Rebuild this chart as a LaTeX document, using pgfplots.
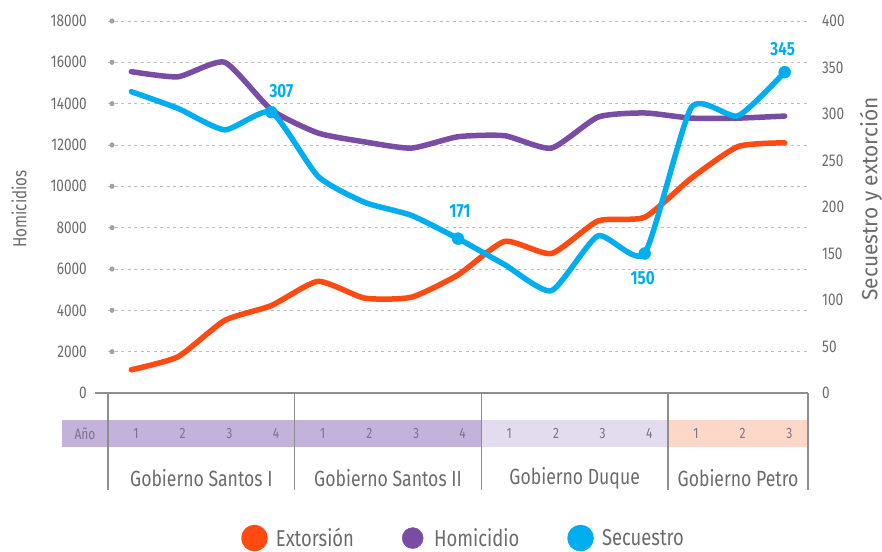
\documentclass[border=0pt]{standalone}
\usepackage{fontspec}
\setmainfont{Fira Sans}[FakeStretch=0.8]
\newfontfamily\widefont{Fira Sans}[FakeStretch=0.95]
\usepackage{pgfplots}
\usepackage{pgfplotstable}
\pgfplotsset{compat=1.18}
\definecolor{cExt}{HTML}{FF4A12}
\definecolor{cHom}{HTML}{7A4DA4}
\definecolor{cSec}{HTML}{00AEEF}
\definecolor{txt}{HTML}{6B6B6B}
\definecolor{gridc}{HTML}{BDBDBD}
\definecolor{sepc}{HTML}{8E8E8E}
\definecolor{bandS}{HTML}{C3B3DA}
\definecolor{bandD}{HTML}{E3DBEE}
\definecolor{bandP}{HTML}{FDD7C8}
\definecolor{yrc}{HTML}{7D7388}

\pgfplotstableread{
x hom
0.5 15550
1.5 15300
2.5 16000
3.5 13700
4.5 12580
5.5 12150
6.5 11850
7.5 12400
8.5 12450
9.5 11850
10.5 13350
11.5 13550
12.5 13300
13.5 13300
14.5 13400
}\homtable

\pgfplotstableread{
x ext sec
0.5 25 324
1.5 39 306
2.5 78 283
3.5 94 302
4.5 120 233
5.5 102 205
6.5 103 191
7.5 127 166
8.5 163 138
9.5 150 110
10.5 185 169
11.5 189 150
12.5 231 307
13.5 265 298
14.5 269 345
}\rtable

\begin{document}
\begin{tikzpicture}
\path[use as bounding box] (0pt,0pt) rectangle (882pt,551pt);
\begin{axis}[
  at={(108pt,158pt)}, anchor=south west, scale only axis,
  width=700pt, height=372pt,
  xmin=0, xmax=15, ymin=0, ymax=18000, clip=false,
  axis line style={draw=none}, major tick length=0pt, xtick=\empty,
  ytick={0,2000,...,18000}, scaled y ticks=false,
  /pgf/number format/assume math mode=true, /pgf/number format/1000 sep={},
  yticklabel style={font=\fontsize{17}{17}\selectfont, text=txt, anchor=east, inner sep=0pt, xshift=-21pt},
  ymajorgrids, grid style={gridc, dash pattern=on 3pt off 3.5pt, line width=0.9pt},
  ylabel={Homicidios},
  ylabel style={at={(axis description cs:0,0.5)}, anchor=center, yshift=89pt, xshift=-2pt, font=\fontsize{19}{19}\selectfont, text=txt},
]
\addplot[cHom, line width=5.5pt, smooth, tension=0.35, line join=round, line cap=round] table[x=x,y=hom]{\homtable};
\pgfplotsinvokeforeach{2000,4000,6000,8000,10000,12000,14000,16000,18000}{
  \fill[gridc!85!black] ([xshift=4pt]axis cs:0,#1) circle (2.6pt);
}
\draw[sepc, line width=1.2pt] ([xshift=-13pt]axis cs:0,0) -- (axis cs:15,0);
\fill[bandS] ([xshift=-46pt,yshift=-27pt]axis cs:0,0) rectangle ([yshift=-54pt]axis cs:8,0);
\fill[bandD] ([yshift=-27pt]axis cs:8,0) rectangle ([yshift=-54pt]axis cs:12,0);
\fill[bandP] ([yshift=-27pt]axis cs:12,0) rectangle ([yshift=-54pt]axis cs:15,0);
\pgfplotsinvokeforeach{0,4,8,12,15}{
  \draw[sepc, line width=1.1pt] (axis cs:#1,0) -- ([yshift=-97pt]axis cs:#1,0);
}
\tikzset{yr/.style={font=\fontsize{15}{15}\selectfont, text=yrc, anchor=center, inner sep=0pt},
         gov/.style={font=\fontsize{22}{22}\selectfont, text=txt, anchor=center, inner sep=0pt}}
\node[yr] at ([xshift=-23pt,yshift=-40.5pt]axis cs:0,0) {Año};
\node[yr] at ([yshift=-40.5pt]axis cs:0.6,0) {1};
\node[yr] at ([yshift=-40.5pt]axis cs:1.6,0) {2};
\node[yr] at ([yshift=-40.5pt]axis cs:2.6,0) {3};
\node[yr] at ([yshift=-40.5pt]axis cs:3.6,0) {4};
\node[yr] at ([yshift=-40.5pt]axis cs:4.6,0) {1};
\node[yr] at ([yshift=-40.5pt]axis cs:5.6,0) {2};
\node[yr] at ([yshift=-40.5pt]axis cs:6.6,0) {3};
\node[yr] at ([yshift=-40.5pt]axis cs:7.6,0) {4};
\node[yr] at ([yshift=-40.5pt]axis cs:8.6,0) {1};
\node[yr] at ([yshift=-40.5pt]axis cs:9.6,0) {2};
\node[yr] at ([yshift=-40.5pt]axis cs:10.6,0) {3};
\node[yr] at ([yshift=-40.5pt]axis cs:11.6,0) {4};
\node[yr] at ([yshift=-40.5pt]axis cs:12.6,0) {1};
\node[yr] at ([yshift=-40.5pt]axis cs:13.6,0) {2};
\node[yr] at ([yshift=-40.5pt]axis cs:14.6,0) {3};
\node[gov] at ([yshift=-85pt]axis cs:2,0) {Gobierno Santos I};
\node[gov] at ([yshift=-85pt]axis cs:6,0) {Gobierno Santos II};
\node[gov] at ([yshift=-85pt]axis cs:10,0) {Gobierno Duque};
\node[gov] at ([yshift=-85pt]axis cs:13.5,0) {Gobierno Petro};
\end{axis}

\begin{axis}[
  at={(108pt,158pt)}, anchor=south west, scale only axis,
  width=700pt, height=372pt,
  xmin=0, xmax=15, ymin=0, ymax=400, clip=false,
  axis line style={draw=none}, major tick length=0pt, xtick=\empty,
  ytick={0,50,...,400}, yticklabel pos=right,
  /pgf/number format/assume math mode=true,
  yticklabel style={font=\fontsize{17}{17}\selectfont, text=txt, anchor=west, inner sep=0pt, xshift=14pt},
  ylabel={Secuestro y extorción},
  ylabel style={at={(axis description cs:1,0.5)}, anchor=center, yshift=-63pt, xshift=8pt, font=\widefont\fontsize{22}{22}\selectfont, text=txt},
  legend columns=3, legend cell align=left,
  legend image code/.code={\fill[#1] (10.5pt,0pt) circle (10.5pt); \path[draw=none,fill=none] (0pt,0pt) rectangle (30pt,0pt);},
  legend style={at={(0.19,-0.39)}, anchor=west, draw=none, fill=none, inner sep=0pt,
    font=\fontsize{23}{23}\selectfont, text=txt,
    /tikz/every even column/.append style={column sep=46pt}},
]
\addplot[cExt, line width=5.5pt, smooth, tension=0.35, line join=round, line cap=round] table[x=x,y=ext]{\rtable};
\addlegendentry{Extorsión}
\addlegendimage{cHom}
\addlegendentry{Homicidio}
\addplot[cSec, line width=5.5pt, smooth, tension=0.35, line join=round, line cap=round] table[x=x,y=sec]{\rtable};
\addlegendentry{Secuestro}
\addplot[forget plot, only marks, mark=*, mark size=6pt, cSec] coordinates {(3.5,302) (7.5,166) (11.5,150) (14.5,345)};
\tikzset{vl/.style={font=\fontsize{19}{19}\bfseries\selectfont, text=cSec, anchor=center, inner sep=0pt}}
\node[vl] at ([xshift=10pt,yshift=21pt]axis cs:3.5,302) {307};
\node[vl] at ([xshift=2pt,yshift=27pt]axis cs:7.5,166) {171};
\node[vl] at ([xshift=-2pt,yshift=-25pt]axis cs:11.5,150) {150};
\node[vl] at ([xshift=-2pt,yshift=23pt]axis cs:14.5,345) {345};
\end{axis}
\end{tikzpicture}
\end{document}
